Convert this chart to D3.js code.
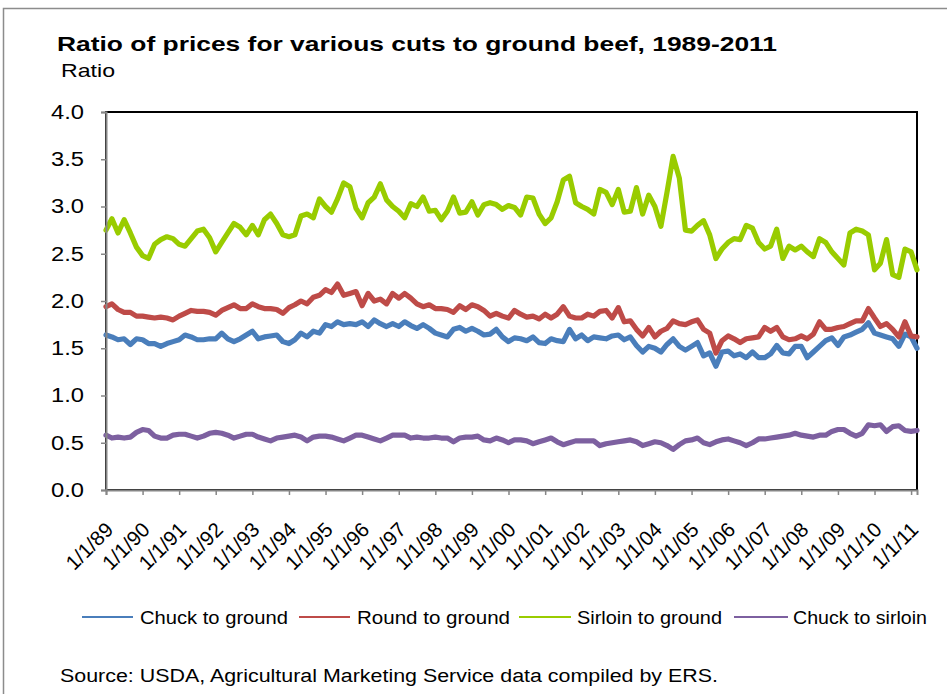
<!DOCTYPE html>
<html><head><meta charset="utf-8">
<script src="https://cdn.jsdelivr.net/npm/d3@7"></script>
<style>html,body{margin:0;padding:0;background:#fff;}svg{display:block;font-family:"Liberation Sans",Arial,sans-serif;}</style>
</head><body>
<svg id="chart" width="947" height="694"></svg>
<script>
// ---- data (bi-monthly readings, Jan 1989 .. Mar 2011) ----
const startDate = new Date(1989, 0, 1);
const stepMonths = 2;
const seriesNames = ["Chuck to ground", "Round to ground", "Sirloin to ground", "Chuck to sirloin"];
const seriesColors = ["#4A7EBB", "#BE4B48", "#99CC00", "#7D60A0"];
const chuckToGround = [
 1.64,1.62,1.59,1.60,1.54,1.60, 1.59,1.55,1.55,1.52,1.55,1.57, 1.59,1.64,1.62,1.59,1.59,1.60,
 1.60,1.66,1.60,1.57,1.60,1.64, 1.68,1.60,1.62,1.63,1.64,1.57, 1.55,1.59,1.66,1.62,1.68,1.66,
 1.75,1.73,1.78,1.75,1.76,1.75, 1.78,1.73,1.80,1.76,1.73,1.76, 1.73,1.78,1.74,1.71,1.75,1.71,
 1.66,1.64,1.62,1.70,1.72,1.68, 1.71,1.68,1.64,1.65,1.70,1.62, 1.57,1.61,1.60,1.58,1.62,1.56,
 1.55,1.60,1.58,1.57,1.70,1.60, 1.64,1.58,1.62,1.61,1.60,1.63, 1.64,1.59,1.62,1.53,1.46,1.52,
 1.50,1.46,1.54,1.60,1.52,1.48, 1.52,1.56,1.42,1.45,1.31,1.46, 1.47,1.42,1.44,1.40,1.46,1.40,
 1.40,1.44,1.53,1.45,1.44,1.52, 1.52,1.40,1.46,1.52,1.58,1.61, 1.53,1.62,1.64,1.67,1.70,1.77,
 1.66,1.64,1.62,1.60,1.52,1.65, 1.62,1.50];
const roundToGround = [
 1.94,1.97,1.91,1.88,1.88,1.84, 1.84,1.83,1.82,1.83,1.82,1.80, 1.84,1.87,1.90,1.89,1.89,1.88,
 1.85,1.90,1.93,1.96,1.92,1.92, 1.97,1.94,1.92,1.92,1.91,1.87, 1.93,1.96,2.00,1.97,2.04,2.06,
 2.12,2.09,2.18,2.06,2.08,2.10, 1.95,2.08,2.00,2.02,1.97,2.08, 2.03,2.08,2.03,1.97,1.94,1.96,
 1.92,1.92,1.91,1.88,1.95,1.91, 1.96,1.94,1.90,1.84,1.87,1.84, 1.82,1.90,1.86,1.83,1.84,1.81,
 1.86,1.82,1.86,1.94,1.84,1.82, 1.82,1.86,1.84,1.89,1.90,1.82, 1.93,1.78,1.79,1.70,1.63,1.72,
 1.62,1.68,1.71,1.79,1.76,1.75, 1.78,1.80,1.70,1.66,1.45,1.58, 1.63,1.60,1.56,1.60,1.61,1.62,
 1.72,1.68,1.72,1.62,1.59,1.60, 1.63,1.60,1.65,1.78,1.70,1.70, 1.72,1.73,1.76,1.79,1.79,1.92,
 1.82,1.73,1.76,1.70,1.62,1.78, 1.63,1.62];
const sirloinToGround = [
 2.75,2.87,2.72,2.86,2.72,2.57, 2.48,2.45,2.60,2.65,2.68,2.66, 2.60,2.58,2.66,2.74,2.76,2.67,
 2.52,2.62,2.72,2.82,2.78,2.70, 2.80,2.70,2.86,2.92,2.82,2.70, 2.68,2.70,2.90,2.92,2.88,3.08,
 3.00,2.94,3.08,3.25,3.21,2.98, 2.88,3.04,3.10,3.24,3.07,3.00, 2.95,2.88,3.03,3.00,3.10,2.95,
 2.96,2.86,2.95,3.10,2.93,2.94, 3.05,2.91,3.02,3.04,3.02,2.97, 3.01,2.99,2.91,3.10,3.09,2.92,
 2.82,2.88,3.05,3.28,3.32,3.04, 3.00,2.97,2.92,3.18,3.15,3.02, 3.18,2.94,2.95,3.20,2.92,3.12,
 3.00,2.79,3.15,3.53,3.30,2.75, 2.74,2.80,2.85,2.70,2.45,2.55, 2.62,2.66,2.65,2.80,2.77,2.62,
 2.55,2.58,2.76,2.45,2.58,2.54, 2.58,2.52,2.47,2.66,2.62,2.52, 2.45,2.38,2.72,2.76,2.74,2.70,
 2.33,2.40,2.65,2.28,2.25,2.55, 2.52,2.33];
const chuckToSirloin = [
 0.58,0.55,0.56,0.55,0.56,0.61, 0.64,0.63,0.57,0.55,0.55,0.58, 0.59,0.59,0.57,0.55,0.57,0.60,
 0.61,0.60,0.58,0.55,0.57,0.59, 0.59,0.56,0.54,0.52,0.55,0.56, 0.57,0.58,0.56,0.52,0.56,0.57,
 0.57,0.56,0.54,0.52,0.55,0.58, 0.58,0.56,0.54,0.52,0.55,0.58, 0.58,0.58,0.55,0.56,0.55,0.55,
 0.56,0.55,0.55,0.51,0.55,0.56, 0.56,0.57,0.53,0.52,0.55,0.53, 0.50,0.53,0.53,0.52,0.49,0.51,
 0.53,0.55,0.51,0.48,0.50,0.52, 0.52,0.52,0.52,0.47,0.49,0.50, 0.51,0.52,0.53,0.51,0.47,0.49,
 0.51,0.50,0.47,0.43,0.48,0.52, 0.53,0.55,0.50,0.48,0.51,0.53, 0.54,0.52,0.50,0.47,0.50,0.54,
 0.54,0.55,0.56,0.57,0.58,0.60, 0.58,0.57,0.56,0.58,0.58,0.62, 0.64,0.64,0.60,0.57,0.60,0.69,
 0.68,0.69,0.62,0.67,0.68,0.63, 0.62,0.63];
const yTicks = [0, 0.5, 1.0, 1.5, 2.0, 2.5, 3.0, 3.5, 4.0];
const xTickYears = d3.range(1989, 2012);
const titleText = "Ratio of prices for various cuts to ground beef, 1989-2011";
const yAxisTitle = "Ratio";
const sourceText = "Source: USDA, Agricultural Marketing Service data compiled by ERS.";

// ---- drawing ----
const svg = d3.select("#chart");
const allSeries = [chuckToGround, roundToGround, sirloinToGround, chuckToSirloin];
const dates = chuckToGround.map((_, i) => d3.timeMonth.offset(startDate, i * stepMonths));

const plot = {left: 106, right: 917, top: 112, bottom: 490};
const x = d3.scaleTime().domain([new Date(1989,0,1), new Date(2011,2,1)]).range([plot.left, plot.right]);
const y = d3.scaleLinear().domain([0, 4]).range([plot.bottom, plot.top]);

// outer chart border
svg.append("rect").attr("x", 3.5).attr("y", 8.5).attr("width", 1000).attr("height", 800)
  .attr("fill", "#fff").attr("stroke", "#8c8c8c").attr("stroke-width", 1.5);

// plot area border
svg.append("rect").attr("x", plot.left).attr("y", plot.top)
  .attr("width", plot.right - plot.left).attr("height", plot.bottom - plot.top)
  .attr("fill", "#fff").attr("stroke", "#000").attr("stroke-width", 2);

// lines
const line = d3.line().x((d, i) => x(dates[i])).y(d => y(d));
allSeries.forEach((s, k) => {
  svg.append("path").datum(s).attr("d", line)
    .attr("fill", "none").attr("stroke", seriesColors[k]).attr("stroke-width", 5.2)
    .attr("stroke-linejoin", "round").attr("stroke-linecap", "round");
});

// y axis
const yAxis = d3.axisLeft(y).tickValues(yTicks).tickFormat(d3.format(".1f")).tickSize(5).tickPadding(17);
const gy = svg.append("g").attr("transform", `translate(${plot.left},0)`).call(yAxis);
gy.select(".domain").attr("stroke", "#868686").attr("stroke-width", 2);
gy.selectAll(".tick line").attr("stroke", "#868686").attr("stroke-width", 1.5);
gy.selectAll(".tick text").attr("font-size", 20).attr("fill", "#000")
  .attr("font-family", "Liberation Sans, Arial, sans-serif").attr("textLength", 33).attr("lengthAdjust", "spacingAndGlyphs");

// x axis
const xAxis = d3.axisBottom(x).tickValues(xTickYears.map(yy => new Date(yy, 0, 1)))
  .tickFormat(d => "1/1/" + d3.timeFormat("%y")(d)).tickSize(5);
const gx = svg.append("g").attr("transform", `translate(0,${plot.bottom})`).call(xAxis);
gx.select(".domain").attr("stroke", "#868686").attr("stroke-width", 2);
gx.selectAll(".tick line").attr("stroke", "#868686").attr("stroke-width", 1.5);
gx.selectAll(".tick text").attr("font-size", 20.5).attr("fill", "#000")
  .attr("font-family", "Liberation Sans, Arial, sans-serif")
  .attr("text-anchor", "end").attr("x", 0).attr("y", 0).attr("dy", null)
  .attr("transform", "translate(8,41) rotate(-45)");

// title
svg.append("text").attr("x", 57).attr("y", 51).attr("font-size", 21).attr("font-weight", "bold")
  .attr("textLength", 720).attr("lengthAdjust", "spacingAndGlyphs").text(titleText);
svg.append("text").attr("x", 61).attr("y", 77).attr("font-size", 19)
  .attr("textLength", 54).attr("lengthAdjust", "spacingAndGlyphs").text(yAxisTitle);

// legend
const legendItems = [
  {x1: 82, x2: 133, tx: 140, w: 148},
  {x1: 299, x2: 350, tx: 357, w: 153},
  {x1: 519, x2: 571, tx: 577, w: 145},
  {x1: 734, x2: 788, tx: 793, w: 134}
];
const legendY = 617;
legendItems.forEach((it, k) => {
  svg.append("line").attr("x1", it.x1).attr("x2", it.x2).attr("y1", legendY).attr("y2", legendY)
    .attr("stroke", seriesColors[k]).attr("stroke-width", 2);
  svg.append("text").attr("x", it.tx).attr("y", legendY + 6.5).attr("font-size", 18)
    .attr("textLength", it.w).attr("lengthAdjust", "spacingAndGlyphs").text(seriesNames[k]);
});

// source
svg.append("text").attr("x", 60).attr("y", 682).attr("font-size", 18)
  .attr("textLength", 658).attr("lengthAdjust", "spacingAndGlyphs").text(sourceText);
</script>
</body></html>
